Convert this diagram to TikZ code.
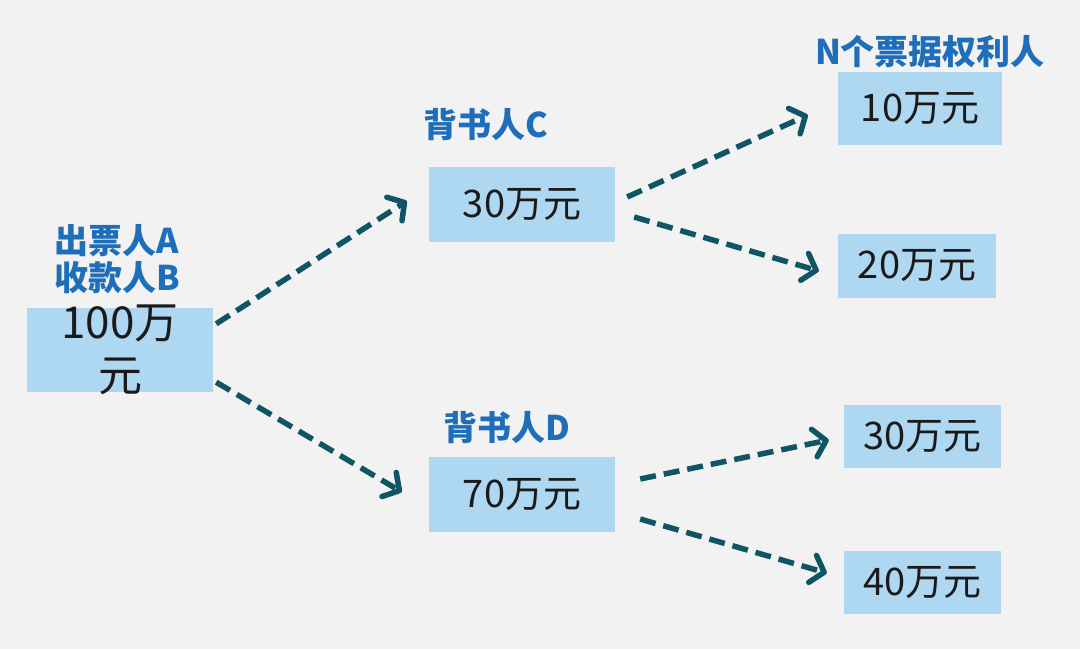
\documentclass[tikz,border=0pt]{standalone}
\usepackage{fontspec}
\setmainfont{Noto Sans CJK SC}
\usetikzlibrary{arrows.meta,calc}
\definecolor{bg}{HTML}{F2F2F2}
\definecolor{boxblue}{HTML}{AED8F2}
\definecolor{lblblue}{HTML}{1E6EB9}
\definecolor{arrteal}{HTML}{0F5564}
\definecolor{txt}{HTML}{1A1A1A}
\begin{document}
\begin{tikzpicture}[x=1pt,y=-1pt,
  amount/.style={fill=boxblue,draw=none,inner sep=0pt,text=txt,
    font=\fontsize{38}{52}\selectfont,align=center},
  lbl/.style={text=lblblue,inner sep=0pt,font=\fontsize{34}{40}\selectfont\bfseries,align=center},
  flow/.style={draw=arrteal,line width=5.5pt,dash pattern=on 16pt off 8pt,
    -{Straight Barb[length=12pt,width=28pt,line cap=round,line join=round]}}]
\useasboundingbox[fill=bg] (0,0) rectangle (1080,649);
% boxes
\node[amount,minimum width=186pt,minimum height=84pt,inner ysep=-8pt,font=\fontsize{44}{53}\selectfont] (A) at (120,350) {100万\\元};
\node[amount,minimum width=186pt,minimum height=75pt] (C) at (522,204.5) {30万元};
\node[amount,minimum width=186pt,minimum height=75pt] (D) at (522,494.5) {70万元};
\node[amount,minimum width=164pt,minimum height=73pt] (N10) at (920,108.5) {10万元};
\node[amount,minimum width=158pt,minimum height=64pt] (N20) at (917,266) {20万元};
\node[amount,minimum width=157pt,minimum height=63pt] (N30) at (922.5,436.5) {30万元};
\node[amount,minimum width=157pt,minimum height=63pt] (N40) at (922.5,582.5) {40万元};
% labels
\node[lbl] (lA) at (117,241) {出票人A};
\node[lbl] (lB) at (117,278) {收款人B};
\node[lbl] (lC) at (486,125) {背书人C};
\node[lbl] (lD) at (507,428) {背书人D};
\node[lbl] (lN) at (930,52) {N个票据权利人};
% arrows
\draw[flow] ($(A.north east)+(3,16)$) -- ($(C.west)+(-22,-3.5)$);
\draw[flow] ($(A.south east)+(3,-10)$) -- ($(D.west)+(-27,-2.5)$);
\draw[flow] ($(C.east)+(12,-7.5)$) -- ($(N10.west)+(-30,6.5)$);
\draw[flow] ($(C.east)+(19,12.5)$) -- ($(N20.west)+(-19,5)$);
\draw[flow] ($(D.east)+(25,-15.5)$) -- ($(N30.west)+(-15,3.5)$);
\draw[flow] ($(D.east)+(25,24.5)$) -- ($(N40.west)+(-17,-9.5)$);
\end{tikzpicture}
\end{document}
